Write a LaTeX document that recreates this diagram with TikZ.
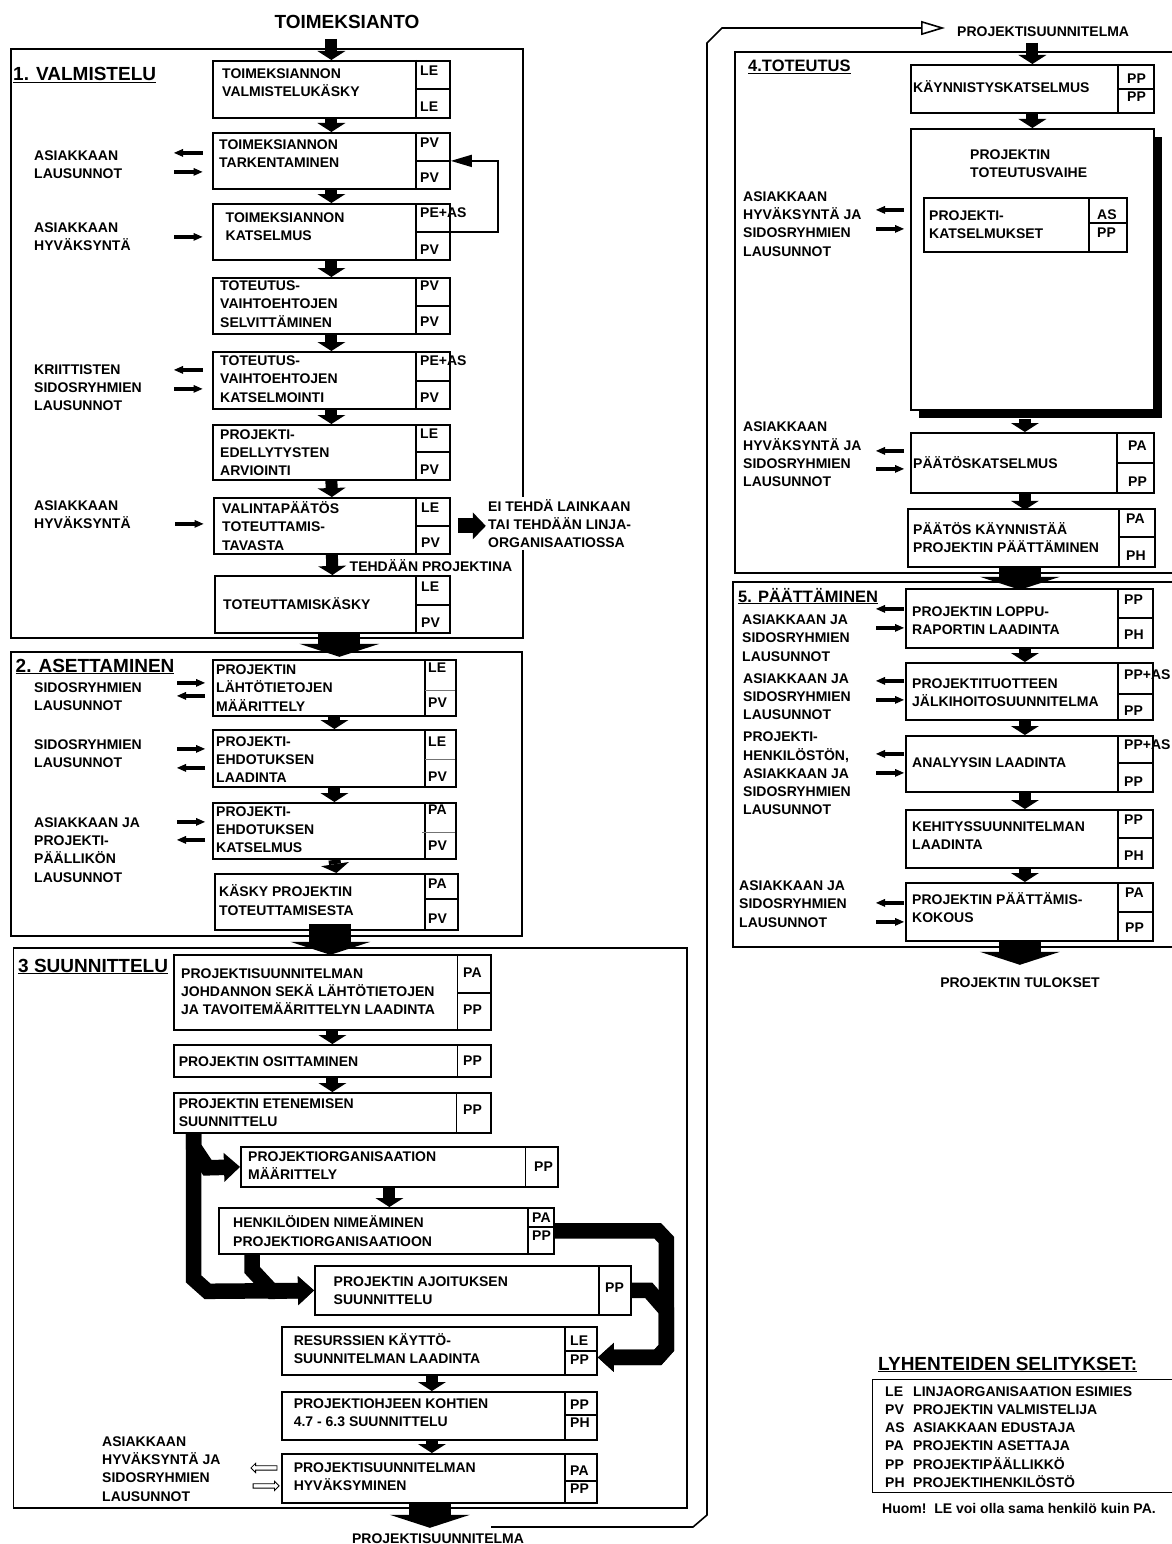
\documentclass[tikz,border=0pt]{standalone}
\usepackage{fontspec}
\setmainfont{Liberation Sans}
\usetikzlibrary{arrows.meta,calc,shadows,shapes.arrows}

\begin{document}
\begin{tikzpicture}[x=1pt,y=-1pt]
	\tikzset{every node/.style={font=\bfseries\fontsize{14}{18.3}\selectfont,inner sep=0pt}}
	\tikzset{frame/.style={draw,line width=1.8pt,anchor=north west}}
	\tikzset{pbox/.style={draw,fill=white,line width=1.8pt,anchor=north west}}
	\tikzset{div/.style={line width=1.8pt}}
	\tikzset{thindiv/.style={line width=0.7pt,black!55}}
	\tikzset{txt/.style={anchor=west,align=left}}
	\tikzset{role/.style={anchor=west}}
	\tikzset{heading/.style={anchor=base west,font=\bfseries\fontsize{19}{22}\selectfont}}
	\tikzset{subheading/.style={anchor=base west,font=\bfseries\fontsize{16.5}{20}\selectfont}}
	\tikzset{dnarr/.style={line width=12pt,-{Triangle[width=28pt,length=9pt,line width=0pt]}}}
	\tikzset{medarr/.style={line width=15pt,-{Triangle[width=27pt,length=13pt,line width=0pt]}}}
	\tikzset{bigarr/.style={line width=42pt,-{Triangle[width=80pt,length=13pt,line width=0pt]}}}
	\tikzset{fatarr/.style={line width=15.5pt,line join=miter,-{Triangle[width=29pt,length=16pt,line width=0pt]}}}
	\tikzset{sarr/.style={line width=3.5pt,-{Triangle[width=8pt,length=9pt,line width=0pt]}}}
	\tikzset{fbarr/.style={line width=1.6pt,-{Triangle[width=12pt,length=21pt]}}}
	\tikzset{retline/.style={line width=1.6pt,-{Triangle[open,width=14pt,length=24pt]}}}
	\tikzset{harr/.style={single arrow,draw,fill=white,line width=0.8pt,minimum height=26pt,minimum width=9pt,inner sep=1.8pt,single arrow head extend=2.5pt}}

	\useasboundingbox (0,0) rectangle (1172,1544);
	\clip (0,0) rectangle (1172,1544);

	% section frames
	\node[frame,minimum width=512,minimum height=589] (s1) at (10,48) {};
	\node[frame,minimum width=511,minimum height=284] (s2) at (10,651) {};
	\node[frame,minimum width=673.5,minimum height=560] (s3) at (12.5,947) {};
	\node[frame,minimum width=450,minimum height=521] (s4) at (734,51) {};
	\node[frame,minimum width=452,minimum height=365] (s5) at (732,581) {};

	\node[font=\bfseries\fontsize{19}{22}\selectfont] (toim) at (347,22) {TOIMEKSIANTO};
	\node[heading] (h1) at (13,81) {\underline{1. VALMISTELU}};
	\node[heading] (h2) at (15.5,672) {\underline{2. ASETTAMINEN}};
	\node[heading] (h3) at (18,972) {\underline{3 SUUNNITTELU}};
	\node[subheading] (h4) at (748,72) {\underline{4.TOTEUTUS}};
	\node[subheading] (h5) at (738,602) {\underline{5. PÄÄTTÄMINEN}};

	% 1. valmistelu
	\node[pbox,minimum width=237,minimum height=57] (b1a) at (212,60) {};
	\draw[div] (416,60) -- (416,117) (416,89) -- (449,89);
	\node[txt] (t1a) at (222,83) {TOIMEKSIANNON\\VALMISTELUKÄSKY};
	\node[role] (r1a1) at (420,71) {LE};
	\node[role] (r1a2) at (420,107) {LE};

	\node[pbox,minimum width=237,minimum height=56] (b1b) at (212,132) {};
	\draw[div] (416,132) -- (416,188) (416,161) -- (449,161);
	\node[txt] (t1b) at (219,153.5) {TOIMEKSIANNON\\TARKENTAMINEN};
	\node[role] (r1b1) at (420,143) {PV};
	\node[role] (r1b2) at (420,178) {PV};

	\node[pbox,minimum width=237,minimum height=56] (b1c) at (212,203) {};
	\draw[div] (416,203) -- (416,259) (416,232) -- (449,232);
	\node[txt] (t1c) at (225.5,226.5) {TOIMEKSIANNON\\KATSELMUS};
	\node[role] (r1c1) at (420,213) {PE+AS};
	\node[role] (r1c2) at (420,250) {PV};

	\node[pbox,minimum width=237,minimum height=56] (b1d) at (212,277) {};
	\draw[div] (416,277) -- (416,333) (416,306) -- (449,306);
	\node[txt] (t1d) at (220,304) {TOTEUTUS-\\VAIHTOEHTOJEN\\SELVITTÄMINEN};
	\node[role] (r1d1) at (420,286) {PV};
	\node[role] (r1d2) at (420,322) {PV};

	\node[pbox,minimum width=237,minimum height=57] (b1e) at (212,351) {};
	\draw[div] (416,351) -- (416,408) (416,381) -- (449,381);
	\node[txt] (t1e) at (220,379) {TOTEUTUS-\\VAIHTOEHTOJEN\\KATSELMOINTI};
	\node[role] (r1e1) at (420,361) {PE+AS};
	\node[role] (r1e2) at (420,398) {PV};

	\node[pbox,minimum width=237,minimum height=55] (b1f) at (212,424) {};
	\draw[div] (416,424) -- (416,479) (416,452) -- (449,452);
	\node[txt] (t1f) at (220,452.5) {PROJEKTI-\\EDELLYTYSTEN\\ARVIOINTI};
	\node[role] (r1f1) at (420,434) {LE};
	\node[role] (r1f2) at (420,470) {PV};

	\node[pbox,minimum width=236,minimum height=56] (b1g) at (213,497) {};
	\draw[div] (416,497) -- (416,553) (416,526) -- (449,526);
	\node[txt] (t1g) at (222,526) {VALINTAPÄÄTÖS\\TOTEUTTAMIS-\\TAVASTA};
	\node[role] (r1g1) at (421,508) {LE};
	\node[role] (r1g2) at (421,543) {PV};

	\node[pbox,minimum width=235,minimum height=57] (b1h) at (214,575) {};
	\draw[div] (416,575) -- (416,632) (416,605) -- (449,605);
	\node[txt] (t1h) at (223,604) {TOTEUTTAMISKÄSKY};
	\node[role] (r1h1) at (421,587) {LE};
	\node[role] (r1h2) at (421,623) {PV};

	\node[txt] (l1b) at (34,164.5) {ASIAKKAAN\\LAUSUNNOT};
	\node[txt] (l1c) at (34,236.5) {ASIAKKAAN\\HYVÄKSYNTÄ};
	\node[txt] (l1e) at (34,387.5) {KRIITTISTEN\\SIDOSRYHMIEN\\LAUSUNNOT};
	\node[txt] (l1g) at (34,515) {ASIAKKAAN\\HYVÄKSYNTÄ};
	\node[txt,fill=white,inner sep=2pt] (eiteh) at (486,523.5) {EI TEHDÄ LAINKAAN\\TAI TEHDÄÄN LINJA-\\ORGANISAATIOSSA};
	\node[anchor=west] (tehd) at (349.5,566) {TEHDÄÄN PROJEKTINA};

	\draw[dnarr] ($(b1a.north)+(0,-21)$) -- (b1a.north);
	\draw[dnarr] (b1a.south) -- (b1b.north);
	\draw[dnarr] (b1b.south) -- (b1c.north);
	\draw[dnarr] (b1c.south) -- (b1d.north);
	\draw[dnarr] (b1d.south) -- (b1e.north);
	\draw[dnarr] (b1e.south) -- (b1f.north);
	\draw[dnarr] (b1f.south) -- (b1g.north);
	\draw[dnarr] (b1g.south) -- (b1h.north);
	\draw[fbarr] (b1c.east) -- ++(47,0) |- (b1b.east);
	\draw[medarr] ($(b1g.east)+(7,0)$) -- ++(28,0);
	\draw[sarr] ($(b1b.west)+(-9.5,-8)$) -- ++(-28.5,0);
	\draw[sarr] ($(b1b.west)+(-38,11)$) -- ++(28.5,0);
	\draw[sarr] ($(b1c.west)+(-38,5)$) -- ++(28.5,0);
	\draw[sarr] ($(b1e.west)+(-9.5,-10.5)$) -- ++(-28.5,0);
	\draw[sarr] ($(b1e.west)+(-38,8.5)$) -- ++(28.5,0);
	\draw[sarr] ($(b1g.west)+(-38,-2)$) -- ++(28.5,0);

	% 2. asettaminen
	\node[pbox,minimum width=243,minimum height=56] (b2a) at (212,659) {};
	\draw[div] (425,659) -- (425,715);
	\draw[thindiv] (425,690) -- (455,690);
	\node[txt] (t2a) at (216,688) {PROJEKTIN\\LÄHTÖTIETOJEN\\MÄÄRITTELY};
	\node[role] (r2a1) at (428,668) {LE};
	\node[role] (r2a2) at (428,703) {PV};

	\node[pbox,minimum width=243,minimum height=57] (b2b) at (212,729) {};
	\draw[div] (425,729) -- (425,786);
	\draw[thindiv] (425,759) -- (455,759);
	\node[txt] (t2b) at (216,759.5) {PROJEKTI-\\EHDOTUKSEN\\LAADINTA};
	\node[role] (r2b1) at (428,742) {LE};
	\node[role] (r2b2) at (428,777) {PV};

	\node[pbox,minimum width=243,minimum height=56] (b2c) at (212,802) {};
	\draw[div] (425,802) -- (425,858);
	\draw[thindiv] (422,832) -- (455,832);
	\node[txt] (t2c) at (216,829.5) {PROJEKTI-\\EHDOTUKSEN\\KATSELMUS};
	\node[role] (r2c1) at (428,810) {PA};
	\node[role] (r2c2) at (428,846) {PV};

	\node[pbox,minimum width=243,minimum height=56] (b2d) at (214,873) {};
	\draw[div] (425,873) -- (425,929) (425,899) -- (457,899);
	\node[txt] (t2d) at (219,900) {KÄSKY PROJEKTIN\\TOTEUTTAMISESTA};
	\node[role] (r2d1) at (428,884) {PA};
	\node[role] (r2d2) at (428,919) {PV};

	\node[txt] (l2a) at (34,697) {SIDOSRYHMIEN\\LAUSUNNOT};
	\node[txt] (l2b) at (34,754) {SIDOSRYHMIEN\\LAUSUNNOT};
	\node[txt] (l2c) at (34,850) {ASIAKKAAN JA\\PROJEKTI-\\PÄÄLLIKÖN\\LAUSUNNOT};

	\draw[bigarr] ($(b1h.south)+(7,0)$) -- ++(0,23);
	\draw[dnarr] (b2a.south) -- (b2b.north);
	\draw[dnarr] (b2b.south) -- (b2c.north);
	\draw[dnarr] (b2c.south) -- (b2d.north);
	\draw[sarr] ($(b2a.west)+(-35,-5)$) -- ++(28,0);
	\draw[sarr] ($(b2a.west)+(-7,8)$) -- ++(-28,0);
	\draw[sarr] ($(b2b.west)+(-35,-9.5)$) -- ++(28,0);
	\draw[sarr] ($(b2b.west)+(-7,9.5)$) -- ++(-28,0);
	\draw[sarr] ($(b2c.west)+(-35,-9)$) -- ++(28,0);
	\draw[sarr] ($(b2c.west)+(-7,9)$) -- ++(-28,0);

	% 3 suunnittelu
	\node[pbox,minimum width=317,minimum height=75] (b3a) at (173,954) {};
	\draw[div] (457.5,954) -- (457.5,1029) (457.5,993) -- (490,993);
	\node[txt] (t3a) at (181,991.5) {PROJEKTISUUNNITELMAN\\JOHDANNON SEKÄ LÄHTÖTIETOJEN\\JA TAVOITEMÄÄRITTELYN LAADINTA};
	\node[role] (r3a1) at (463,973) {PA};
	\node[role] (r3a2) at (463,1010) {PP};

	\node[pbox,minimum width=317,minimum height=32] (b3b) at (173,1044) {};
	\draw[div] (457.5,1044) -- (457.5,1076);
	\node[txt] (t3b) at (178.6,1062) {PROJEKTIN OSITTAMINEN};
	\node[role] (r3b) at (463,1061) {PP};

	\node[pbox,minimum width=317,minimum height=40] (b3c) at (173,1092) {};
	\draw[div] (456.5,1092) -- (456.5,1132);
	\node[txt] (t3c) at (178.6,1112.5) {PROJEKTIN ETENEMISEN\\SUUNNITTELU};
	\node[role] (r3c) at (463,1110) {PP};

	\node[pbox,minimum width=317,minimum height=40] (b3d) at (240,1146) {};
	\draw[div] (525.5,1146) -- (525.5,1186);
	\node[txt] (t3d) at (248,1165.5) {PROJEKTIORGANISAATION\\MÄÄRITTELY};
	\node[role] (r3d) at (534,1167) {PP};

	\node[pbox,minimum width=335,minimum height=46] (b3e) at (218,1207) {};
	\draw[div] (528,1207) -- (528,1253) (528,1227) -- (553,1227);
	\node[txt] (t3e) at (233,1231) {HENKILÖIDEN NIMEÄMINEN\\PROJEKTIORGANISAATIOON};
	\node[role] (r3e1) at (532,1218) {PA};
	\node[role] (r3e2) at (532,1236) {PP};

	\node[pbox,minimum width=316,minimum height=49] (b3f) at (314,1265) {};
	\draw[div] (599,1265) -- (599,1314);
	\node[txt] (t3f) at (333.5,1291) {PROJEKTIN AJOITUKSEN\\SUUNNITTELU};
	\node[role] (r3f) at (605,1288) {PP};

	\node[pbox,minimum width=315,minimum height=48] (b3g) at (281,1326) {};
	\draw[div] (565,1326) -- (565,1374) (565,1351) -- (596,1351);
	\node[txt] (t3g) at (293.6,1348.5) {RESURSSIEN KÄYTTÖ-\\SUUNNITELMAN LAADINTA};
	\node[role] (r3g1) at (570,1341) {LE};
	\node[role] (r3g2) at (570,1360) {PP};

	\node[pbox,minimum width=315,minimum height=48] (b3h) at (281,1391) {};
	\draw[div] (565,1391) -- (565,1439) (565,1415) -- (596,1415);
	\node[txt] (t3h) at (293.6,1413) {PROJEKTIOHJEEN KOHTIEN\\4.7 - 6.3 SUUNNITTELU};
	\node[role] (r3h1) at (570,1405) {PP};
	\node[role] (r3h2) at (570,1423) {PH};

	\node[pbox,minimum width=315,minimum height=49] (b3i) at (281,1453) {};
	\draw[div] (565,1453) -- (565,1502) (565,1481) -- (596,1481);
	\node[txt] (t3i) at (293.6,1477) {PROJEKTISUUNNITELMAN\\HYVÄKSYMINEN};
	\node[role] (r3i1) at (570,1471) {PA};
	\node[role] (r3i2) at (570,1489) {PP};

	\node[txt] (l3i) at (102,1469) {ASIAKKAAN\\HYVÄKSYNTÄ JA\\SIDOSRYHMIEN\\LAUSUNNOT};
	\node[harr,shape border rotate=180] (ha1) at ($(b3i.west)+(-16,-10.5)$) {};
	\node[harr] (ha2) at ($(b3i.west)+(-16,7.5)$) {};

	\draw[bigarr] ($(b2d.south)+(-6,-7)$) -- ++(0,31);
	\draw[dnarr] (b3a.south) -- (b3b.north);
	\draw[dnarr] (b3b.south) -- (b3c.north);
	\draw[dnarr] ($(b3e.north |- b3d.south)+(3,0)$) -- ($(b3e.north)+(3,0)$);
	\draw[dnarr] ($(b3g.south)+(-7.5,0)$) -- ($(b3h.north)+(-7.5,0)$);
	\draw[dnarr] ($(b3h.south)+(-7.5,0)$) -- ($(b3i.north)+(-7.5,0)$);
	\draw[fatarr] ($(b3c.south west)+(20.5,0)$) -- ++(0,13) -- ++(14,21) -- (b3d.west);
	\draw[fatarr] ($(b3c.south west)+(20.5,0)$) -- ++(0,145) -- ++(14,12.5) -- (b3f.west);
	\draw[fatarr] ($(b3e.south west)+(34,0)$) -- ++(0,15) -- ++(20,21.5) -- (b3f.west);
	\draw[fatarr] (b3e.east) -- ++(103,0) -- ++(8.5,9) -- ++(0,108) -- ++(-8.5,9.5) -- ($(b3g.east)+(0,6.5)$);
	\draw[fatarr] (b3f.east) -- ++(17,0) -- ++(17.5,20) -- ++(0,37.5) -- ++(-8.5,9.5) -- ($(b3g.east)+(0,6.5)$);
	\draw[bigarr] ($(b3i.south)+(-9.5,0)$) -- ++(0,24);

	\node (psbot) at (438,1539) {PROJEKTISUUNNITELMA};
	\node[anchor=west] (pstop) at (957,32) {PROJEKTISUUNNITELMA};
	\coordinate (rs) at (491,1527);
	\draw[retline] (rs) -- ++(202,0) -- ++(14,-12) -- ++(0,-1472) -- ++(15,-15) -- ($(pstop.west)+(-12,-4)$);

	% 4. toteutus
	\node[pbox,minimum width=243,minimum height=48] (b4a) at (910,64) {};
	\draw[div] (1118,64) -- (1118,112) (1118,89) -- (1153,89);
	\node[txt] (t4a) at (913,87) {KÄYNNISTYSKATSELMUS};
	\node[role] (r4a1) at (1127,79) {PP};
	\node[role] (r4a2) at (1127,97) {PP};

	\node[pbox,minimum width=243,minimum height=281,drop shadow={shadow xshift=8pt,shadow yshift=-8pt,opacity=1,fill=black}] (b4b) at (910,128) {};
	\node[txt] (t4b) at (970,164) {PROJEKTIN\\TOTEUTUSVAIHE};
	\node[pbox,minimum width=203,minimum height=54] (b4bi) at (923,197) {};
	\draw[div] (1089,197) -- (1089,251) (1089,223) -- (1126,223);
	\node[txt] (t4bi) at (929,224.5) {PROJEKTI-\\KATSELMUKSET};
	\node[role] (r4b1) at (1097,215) {AS};
	\node[role] (r4b2) at (1097,233) {PP};

	\node[pbox,minimum width=243,minimum height=60] (b4c) at (910,432) {};
	\draw[div] (1117,432) -- (1117,492) (1117,463) -- (1153,463);
	\node[txt] (t4c) at (913,463) {PÄÄTÖSKATSELMUS};
	\node[role] (r4c1) at (1128,446) {PA};
	\node[role] (r4c2) at (1128,482) {PP};

	\node[pbox,minimum width=247,minimum height=58] (b4d) at (907,508) {};
	\draw[div] (1119,508) -- (1119,566) (1119,537) -- (1154,537);
	\node[txt] (t4d) at (913,537.5) {PÄÄTÖS KÄYNNISTÄÄ\\PROJEKTIN PÄÄTTÄMINEN};
	\node[role] (r4d1) at (1126,519) {PA};
	\node[role] (r4d2) at (1126,556) {PH};

	\node[txt] (l4b) at (743,224) {ASIAKKAAN\\HYVÄKSYNTÄ JA\\SIDOSRYHMIEN\\LAUSUNNOT};
	\node[txt] (l4c) at (743,454.5) {ASIAKKAAN\\HYVÄKSYNTÄ JA\\SIDOSRYHMIEN\\LAUSUNNOT};
	\coordinate (c4b) at (b4b.west |- b4bi.west);

	\draw[dnarr] ($(b4a.north)+(0,-21)$) -- (b4a.north);
	\draw[dnarr] (b4a.south) -- (b4b.north);
	\draw[dnarr] ($(b4b.south)+(-7.5,8)$) -- ($(b4c.north)+(-7.5,0)$);
	\draw[dnarr] ($(b4c.south)+(-7.5,0)$) -- ++(0,16);
	\draw[sarr] ($(c4b)+(-6,-15)$) -- ++(-28,0);
	\draw[sarr] ($(c4b)+(-34,4)$) -- ++(28,0);
	\draw[sarr] ($(b4c.west)+(-6,-12)$) -- ++(-28,0);
	\draw[sarr] ($(b4c.west)+(-34,6)$) -- ++(28,0);
	\draw[bigarr] ($(b4d.south)+(-11.5,0)$) -- ++(0,22);

	% 5. paattaminen
	\node[pbox,minimum width=247,minimum height=59] (b5a) at (905,588) {};
	\draw[div] (1118,588) -- (1118,647) (1118,618) -- (1152,618);
	\node[txt] (t5a) at (912,620.5) {PROJEKTIN LOPPU-\\RAPORTIN LAADINTA};
	\node[role] (r5a1) at (1124,600) {PP};
	\node[role] (r5a2) at (1124,635) {PH};

	\node[pbox,minimum width=247,minimum height=57] (b5b) at (905,662) {};
	\draw[div] (1118,662) -- (1118,719) (1118,694) -- (1152,694);
	\node[txt] (t5b) at (912,692.5) {PROJEKTITUOTTEEN\\JÄLKIHOITOSUUNNITELMA};
	\node[role] (r5b1) at (1124,675) {PP+AS};
	\node[role] (r5b2) at (1124,711) {PP};

	\node[pbox,minimum width=247,minimum height=56] (b5c) at (905,735) {};
	\draw[div] (1118,735) -- (1118,791) (1118,763) -- (1152,763);
	\node[txt] (t5c) at (912,763) {ANALYYSIN LAADINTA};
	\node[role] (r5c1) at (1124,745) {PP+AS};
	\node[role] (r5c2) at (1124,782) {PP};

	\node[pbox,minimum width=247,minimum height=58] (b5d) at (905,809) {};
	\draw[div] (1118,809) -- (1118,867) (1118,838) -- (1152,838);
	\node[txt] (t5d) at (912,835.5) {KEHITYSSUUNNITELMAN\\LAADINTA};
	\node[role] (r5d1) at (1124,820) {PP};
	\node[role] (r5d2) at (1124,856) {PH};

	\node[pbox,minimum width=247,minimum height=58] (b5e) at (905,882) {};
	\draw[div] (1118,882) -- (1118,940) (1118,912) -- (1152,912);
	\node[txt] (t5e) at (912,907.5) {PROJEKTIN PÄÄTTÄMIS-\\KOKOUS};
	\node[role] (r5e1) at (1125,893) {PA};
	\node[role] (r5e2) at (1125,928) {PP};

	\node[txt] (l5a) at (742,638) {ASIAKKAAN JA\\SIDOSRYHMIEN\\LAUSUNNOT};
	\node[txt] (l5b) at (743,696.5) {ASIAKKAAN JA\\SIDOSRYHMIEN\\LAUSUNNOT};
	\node[txt] (l5c) at (743,773.5) {PROJEKTI-\\HENKILÖSTÖN,\\ASIAKKAAN JA\\SIDOSRYHMIEN\\LAUSUNNOT};
	\node[txt] (l5e) at (739,904) {ASIAKKAAN JA\\SIDOSRYHMIEN\\LAUSUNNOT};
	\node (tulos) at (1020,983) {PROJEKTIN TULOKSET};

	\draw[dnarr] ($(b5a.south)+(-4.5,0)$) -- ($(b5b.north)+(-4.5,0)$);
	\draw[dnarr] ($(b5b.south)+(-4.5,0)$) -- ($(b5c.north)+(-4.5,0)$);
	\draw[dnarr] ($(b5c.south)+(-4.5,0)$) -- ($(b5d.north)+(-4.5,0)$);
	\draw[dnarr] ($(b5d.south)+(-4.5,0)$) -- ($(b5e.north)+(-4.5,0)$);
	\draw[sarr] ($(b5a.west)+(-1,-9.5)$) -- ++(-28,0);
	\draw[sarr] ($(b5a.west)+(-29,9.5)$) -- ++(28,0);
	\draw[sarr] ($(b5b.west)+(-1,-10.5)$) -- ++(-28,0);
	\draw[sarr] ($(b5b.west)+(-29,8.5)$) -- ++(28,0);
	\draw[sarr] ($(b5c.west)+(-1,-10)$) -- ++(-28,0);
	\draw[sarr] ($(b5c.west)+(-29,9)$) -- ++(28,0);
	\draw[sarr] ($(b5e.west)+(-1,-9)$) -- ++(-28,0);
	\draw[sarr] ($(b5e.west)+(-29,10)$) -- ++(28,0);
	\draw[bigarr] ($(b5e.south)+(-9.5,0)$) -- ++(0,23);

	% lyhenteet
	\node[heading] (hl) at (878,1370) {\underline{LYHENTEIDEN SELITYKSET:}};
	\node[draw,line width=1pt,anchor=north west,minimum width=308,minimum height=113] (leg) at (872,1379) {};
	\node[txt] (legab) at (885,1437) {LE\\PV\\AS\\PA\\PP\\PH};
	\node[txt] (legtx) at (913,1437) {LINJAORGANISAATION ESIMIES\\PROJEKTIN VALMISTELIJA\\ASIAKKAAN EDUSTAJA\\PROJEKTIN ASETTAJA\\PROJEKTIPÄÄLLIKKÖ\\PROJEKTIHENKILÖSTÖ};
	\node[anchor=west] (huom) at (882,1508) {Huom!~~LE voi olla sama henkilö kuin PA.};
\end{tikzpicture}
\end{document}
